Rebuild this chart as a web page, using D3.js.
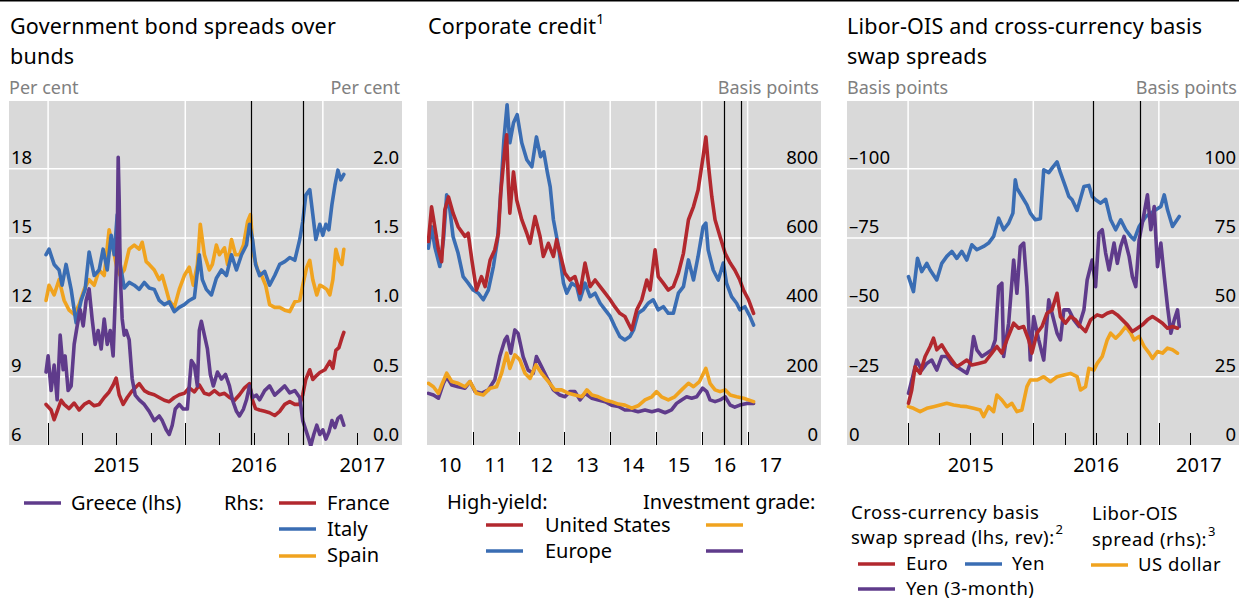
<!DOCTYPE html>
<html>
<head>
<meta charset="utf-8">
<script src="https://cdn.jsdelivr.net/npm/d3@7"></script>
<style>
  body { margin: 0; background: #fff; }
  svg text { font-family: "Noto Sans", sans-serif; fill: #000; }
</style>
</head>
<body>
<svg id="chart" width="1239" height="601"></svg>
<script>
// Dates are decimal years

// Panel 1: government bond spreads over bunds
const greece = [[2014.985,9.2],[2015.000,9.9],[2015.022,8.4],[2015.044,9.5],[2015.066,8.0],[2015.088,10.8],[2015.110,9.3],[2015.124,9.9],[2015.146,8.4],[2015.168,8.6],[2015.190,10.4],[2015.212,11.2],[2015.234,11.9],[2015.256,11.2],[2015.277,12.3],[2015.299,12.8],[2015.321,11.5],[2015.343,10.4],[2015.365,11.0],[2015.387,10.2],[2015.409,11.5],[2015.431,10.4],[2015.453,11.0],[2015.474,9.9],[2015.489,12.3],[2015.504,14.9],[2015.511,18.5],[2015.518,16.7],[2015.526,13.4],[2015.540,11.5],[2015.555,10.8],[2015.569,11.0],[2015.591,10.6],[2015.613,8.9],[2015.635,8.2],[2015.664,8.0],[2015.701,7.8],[2015.737,7.5],[2015.774,7.1],[2015.810,7.3],[2015.832,7.1],[2015.861,6.7],[2015.883,6.5],[2015.905,6.9],[2015.927,7.6],[2015.956,7.8],[2015.985,7.6],[2016.015,7.6],[2016.044,9.7],[2016.066,9.5],[2016.088,8.6],[2016.102,11.0],[2016.117,11.4],[2016.139,10.8],[2016.161,10.2],[2016.182,9.1],[2016.204,8.6],[2016.234,9.2],[2016.263,8.9],[2016.292,9.1],[2016.321,8.6],[2016.343,8.0],[2016.372,7.5],[2016.394,7.3],[2016.423,7.6],[2016.445,8.0],[2016.467,8.6],[2016.489,8.1],[2016.518,8.2],[2016.540,8.0],[2016.577,8.4],[2016.613,8.6],[2016.650,8.2],[2016.686,8.4],[2016.723,8.6],[2016.759,8.3],[2016.796,8.4],[2016.832,8.1],[2016.854,7.1],[2016.876,6.7],[2016.898,6.3],[2016.912,6.0],[2016.934,6.5],[2016.956,6.9],[2016.978,6.5],[2017.000,6.7],[2017.022,6.3],[2017.044,6.6],[2017.066,7.1],[2017.088,6.8],[2017.110,7.2],[2017.131,7.3],[2017.153,6.9]];
const italy = [[2014.985,1.38],[2015.007,1.42],[2015.044,1.31],[2015.080,1.27],[2015.102,1.16],[2015.131,1.31],[2015.168,1.13],[2015.204,0.89],[2015.241,1.05],[2015.270,1.13],[2015.299,1.40],[2015.336,1.23],[2015.372,1.27],[2015.401,1.42],[2015.431,1.27],[2015.460,1.52],[2015.482,1.38],[2015.504,1.67],[2015.526,1.31],[2015.555,1.14],[2015.591,1.18],[2015.628,1.16],[2015.664,1.13],[2015.701,1.18],[2015.737,1.14],[2015.774,1.13],[2015.810,1.05],[2015.847,1.02],[2015.883,1.04],[2015.920,0.97],[2015.956,1.00],[2015.993,1.02],[2016.029,1.05],[2016.066,1.07],[2016.102,1.38],[2016.124,1.20],[2016.153,1.13],[2016.190,1.09],[2016.226,1.21],[2016.263,1.27],[2016.299,1.23],[2016.336,1.38],[2016.372,1.27],[2016.409,1.38],[2016.445,1.45],[2016.467,1.60],[2016.489,1.49],[2016.511,1.31],[2016.540,1.23],[2016.577,1.26],[2016.613,1.16],[2016.650,1.23],[2016.686,1.31],[2016.723,1.33],[2016.759,1.36],[2016.796,1.34],[2016.832,1.49],[2016.854,1.62],[2016.876,1.81],[2016.905,1.85],[2016.927,1.67],[2016.949,1.49],[2016.978,1.60],[2017.000,1.52],[2017.022,1.60],[2017.044,1.56],[2017.066,1.74],[2017.088,1.88],[2017.110,1.99],[2017.131,1.92],[2017.153,1.96]];
const spain = [[2014.985,1.05],[2015.007,1.16],[2015.044,1.09],[2015.080,1.20],[2015.117,1.05],[2015.153,0.98],[2015.190,0.95],[2015.226,1.02],[2015.263,1.13],[2015.299,1.20],[2015.336,1.16],[2015.372,1.27],[2015.409,1.23],[2015.445,1.56],[2015.482,1.38],[2015.504,1.27],[2015.526,1.23],[2015.555,1.27],[2015.591,1.42],[2015.628,1.45],[2015.664,1.42],[2015.686,1.47],[2015.715,1.33],[2015.737,1.31],[2015.774,1.27],[2015.810,1.20],[2015.832,1.23],[2015.861,1.13],[2015.883,1.05],[2015.920,1.00],[2015.956,1.13],[2015.993,1.23],[2016.029,1.29],[2016.058,1.16],[2016.088,1.31],[2016.109,1.60],[2016.139,1.38],[2016.175,1.27],[2016.197,1.31],[2016.226,1.45],[2016.248,1.38],[2016.285,1.43],[2016.307,1.31],[2016.336,1.49],[2016.365,1.38],[2016.394,1.38],[2016.423,1.45],[2016.453,1.62],[2016.474,1.67],[2016.496,1.38],[2016.526,1.27],[2016.555,1.23],[2016.584,1.16],[2016.613,1.02],[2016.650,1.00],[2016.686,1.00],[2016.723,0.98],[2016.759,0.97],[2016.796,1.04],[2016.832,1.05],[2016.854,1.16],[2016.883,1.29],[2016.905,1.34],[2016.927,1.20],[2016.956,1.09],[2016.978,1.16],[2017.000,1.15],[2017.029,1.13],[2017.051,1.09],[2017.073,1.20],[2017.095,1.42],[2017.117,1.34],[2017.139,1.31],[2017.153,1.42]];
const france = [[2014.985,0.30],[2015.022,0.26],[2015.044,0.19],[2015.066,0.25],[2015.095,0.33],[2015.117,0.30],[2015.153,0.27],[2015.190,0.31],[2015.226,0.26],[2015.263,0.30],[2015.299,0.32],[2015.336,0.29],[2015.372,0.30],[2015.409,0.35],[2015.445,0.39],[2015.474,0.44],[2015.496,0.49],[2015.518,0.37],[2015.547,0.30],[2015.577,0.35],[2015.606,0.39],[2015.635,0.42],[2015.664,0.45],[2015.701,0.40],[2015.737,0.38],[2015.774,0.37],[2015.810,0.35],[2015.847,0.33],[2015.883,0.32],[2015.920,0.35],[2015.956,0.37],[2015.993,0.38],[2016.029,0.42],[2016.066,0.39],[2016.102,0.44],[2016.139,0.38],[2016.175,0.37],[2016.212,0.40],[2016.248,0.37],[2016.285,0.38],[2016.321,0.35],[2016.358,0.33],[2016.394,0.37],[2016.431,0.42],[2016.467,0.45],[2016.489,0.33],[2016.511,0.27],[2016.540,0.26],[2016.577,0.25],[2016.613,0.24],[2016.650,0.22],[2016.686,0.25],[2016.723,0.30],[2016.759,0.32],[2016.796,0.30],[2016.832,0.30],[2016.854,0.37],[2016.876,0.48],[2016.905,0.55],[2016.927,0.48],[2016.956,0.51],[2016.978,0.53],[2017.015,0.55],[2017.051,0.61],[2017.073,0.56],[2017.095,0.69],[2017.117,0.71],[2017.139,0.78],[2017.153,0.82]];

// Panel 2: corporate credit, basis points
const hyUS = [[2010.03,590],[2010.10,690],[2010.17,633],[2010.25,566],[2010.32,532],[2010.39,682],[2010.47,719],[2010.57,672],[2010.68,633],[2010.83,605],[2010.90,614],[2010.98,537],[2011.08,450],[2011.19,489],[2011.27,460],[2011.38,537],[2011.48,566],[2011.56,614],[2011.61,730],[2011.70,855],[2011.74,898],[2011.78,748],[2011.81,672],[2011.89,791],[2011.96,710],[2012.07,653],[2012.18,614],[2012.25,585],[2012.36,662],[2012.47,604],[2012.54,547],[2012.65,585],[2012.76,547],[2012.83,595],[2012.94,537],[2013.01,499],[2013.12,479],[2013.23,489],[2013.34,441],[2013.45,528],[2013.56,460],[2013.67,479],[2013.78,460],[2013.89,441],[2014.00,422],[2014.10,402],[2014.21,383],[2014.32,374],[2014.43,345],[2014.47,335],[2014.58,393],[2014.69,422],[2014.80,479],[2014.87,450],[2014.98,566],[2015.05,489],[2015.16,470],[2015.27,450],[2015.38,460],[2015.49,499],[2015.60,556],[2015.71,653],[2015.82,691],[2015.92,739],[2016.03,835],[2016.09,892],[2016.14,817],[2016.22,719],[2016.29,653],[2016.40,604],[2016.51,556],[2016.62,528],[2016.72,508],[2016.83,479],[2016.91,450],[2017.02,422],[2017.13,383]];
const hyEurope = [[2010.03,571],[2010.10,633],[2010.17,575],[2010.28,518],[2010.36,595],[2010.43,725],[2010.50,682],[2010.57,604],[2010.68,556],[2010.79,489],[2010.90,470],[2011.01,450],[2011.12,441],[2011.23,422],[2011.34,450],[2011.45,518],[2011.54,595],[2011.61,730],[2011.68,884],[2011.75,985],[2011.81,875],[2011.89,933],[2011.97,956],[2012.07,875],[2012.18,826],[2012.29,806],[2012.39,892],[2012.48,835],[2012.55,849],[2012.63,788],[2012.69,748],[2012.76,653],[2012.87,575],[2012.98,470],[2013.05,441],[2013.16,470],[2013.27,460],[2013.34,422],[2013.45,470],[2013.56,431],[2013.67,441],[2013.78,412],[2013.89,393],[2014.00,374],[2014.10,345],[2014.21,316],[2014.32,306],[2014.43,316],[2014.51,335],[2014.61,383],[2014.72,393],[2014.83,412],[2014.94,422],[2015.05,393],[2015.16,402],[2015.27,383],[2015.38,383],[2015.49,441],[2015.60,460],[2015.71,537],[2015.82,479],[2015.92,547],[2016.03,633],[2016.09,643],[2016.14,566],[2016.25,508],[2016.36,479],[2016.47,528],[2016.54,470],[2016.65,431],[2016.76,412],[2016.83,393],[2016.94,402],[2017.05,374],[2017.13,349]];
const igUS = [[2010.03,181],[2010.14,171],[2010.25,152],[2010.32,176],[2010.43,210],[2010.54,186],[2010.68,181],[2010.83,171],[2010.94,186],[2011.08,152],[2011.23,147],[2011.38,167],[2011.52,171],[2011.63,210],[2011.74,268],[2011.81,224],[2011.92,263],[2012.03,248],[2012.14,210],[2012.25,195],[2012.38,234],[2012.50,210],[2012.65,186],[2012.79,162],[2012.94,162],[2013.09,152],[2013.23,147],[2013.38,142],[2013.49,162],[2013.60,147],[2013.74,142],[2013.89,133],[2014.03,128],[2014.18,121],[2014.32,118],[2014.47,109],[2014.61,116],[2014.76,133],[2014.91,142],[2015.01,157],[2015.12,142],[2015.27,133],[2015.41,142],[2015.56,162],[2015.71,181],[2015.82,171],[2015.95,186],[2016.09,224],[2016.18,181],[2016.29,162],[2016.40,157],[2016.51,162],[2016.62,147],[2016.76,142],[2016.91,138],[2017.02,133],[2017.13,128]];
const igEurope = [[2010.03,152],[2010.14,147],[2010.25,138],[2010.36,181],[2010.43,200],[2010.54,176],[2010.68,171],[2010.83,167],[2010.94,186],[2011.05,157],[2011.19,152],[2011.34,162],[2011.48,191],[2011.59,258],[2011.70,306],[2011.75,316],[2011.83,268],[2011.92,335],[2011.99,325],[2012.10,258],[2012.21,219],[2012.32,210],[2012.39,258],[2012.50,229],[2012.61,200],[2012.76,162],[2012.90,147],[2013.01,142],[2013.12,157],[2013.23,157],[2013.34,133],[2013.45,152],[2013.60,138],[2013.74,133],[2013.89,128],[2014.03,118],[2014.18,114],[2014.32,104],[2014.47,104],[2014.61,99],[2014.76,104],[2014.91,99],[2015.05,104],[2015.20,96],[2015.34,104],[2015.45,123],[2015.56,133],[2015.67,142],[2015.78,138],[2015.89,142],[2016.02,167],[2016.11,157],[2016.18,133],[2016.29,128],[2016.40,133],[2016.51,142],[2016.62,118],[2016.72,112],[2016.83,118],[2016.98,123],[2017.13,123]];

// Panel 3: basis swap (lhs, reversed, so negative) and Libor-OIS (rhs)
const euroBasis = [[2015.003,-15.4],[2015.029,-20.2],[2015.056,-28.6],[2015.096,-26.2],[2015.136,-32.3],[2015.176,-35.9],[2015.203,-38.9],[2015.229,-34.7],[2015.269,-36.5],[2015.309,-33.5],[2015.349,-31.0],[2015.389,-28.6],[2015.429,-29.8],[2015.469,-31.0],[2015.509,-29.2],[2015.563,-29.8],[2015.616,-30.4],[2015.669,-33.5],[2015.709,-35.9],[2015.749,-33.5],[2015.789,-38.3],[2015.843,-44.3],[2015.883,-42.5],[2015.923,-43.1],[2015.963,-38.3],[2015.989,-33.5],[2016.029,-40.7],[2016.069,-43.1],[2016.109,-47.9],[2016.149,-49.1],[2016.189,-55.1],[2016.216,-46.7],[2016.256,-44.3],[2016.296,-46.7],[2016.336,-45.5],[2016.376,-43.1],[2016.416,-41.3],[2016.456,-45.5],[2016.509,-47.3],[2016.549,-46.7],[2016.589,-47.9],[2016.629,-48.5],[2016.669,-47.3],[2016.709,-45.5],[2016.749,-43.7],[2016.789,-41.3],[2016.829,-42.5],[2016.869,-43.7],[2016.909,-45.5],[2016.949,-46.7],[2016.989,-45.5],[2017.029,-44.3],[2017.069,-42.5],[2017.109,-43.1],[2017.149,-42.5]];
const yenBasis = [[2015.003,-61.1],[2015.043,-55.7],[2015.075,-67.7],[2015.109,-62.9],[2015.149,-65.9],[2015.176,-63.5],[2015.229,-59.9],[2015.269,-65.9],[2015.309,-68.4],[2015.349,-70.2],[2015.389,-67.7],[2015.429,-70.2],[2015.469,-67.1],[2015.509,-72.6],[2015.549,-70.8],[2015.603,-72.0],[2015.643,-73.2],[2015.683,-75.6],[2015.723,-82.2],[2015.763,-78.0],[2015.803,-80.4],[2015.837,-84.0],[2015.856,-96.0],[2015.869,-93.0],[2015.909,-90.0],[2015.949,-87.0],[2015.976,-84.0],[2016.016,-81.6],[2016.056,-82.0],[2016.083,-99.6],[2016.123,-98.6],[2016.157,-100.7],[2016.189,-102.5],[2016.216,-98.6],[2016.256,-93.6],[2016.283,-90.0],[2016.309,-88.8],[2016.349,-85.0],[2016.403,-93.6],[2016.443,-94.0],[2016.469,-90.0],[2016.496,-88.8],[2016.536,-87.6],[2016.576,-89.0],[2016.616,-81.6],[2016.656,-78.0],[2016.696,-81.6],[2016.736,-78.0],[2016.776,-75.6],[2016.803,-74.4],[2016.843,-79.2],[2016.896,-82.8],[2016.936,-84.0],[2016.976,-85.2],[2017.016,-86.4],[2017.043,-90.6],[2017.069,-85.2],[2017.109,-79.2],[2017.163,-82.8]];
const yen3m = [[2015.003,-19.0],[2015.043,-26.2],[2015.069,-31.0],[2015.109,-27.4],[2015.149,-29.8],[2015.189,-31.0],[2015.229,-27.4],[2015.269,-32.3],[2015.309,-32.3],[2015.349,-29.8],[2015.389,-28.6],[2015.429,-27.4],[2015.469,-26.2],[2015.496,-29.8],[2015.523,-39.5],[2015.549,-34.7],[2015.589,-32.3],[2015.629,-33.5],[2015.669,-34.7],[2015.696,-38.3],[2015.723,-57.5],[2015.749,-58.7],[2015.763,-32.3],[2015.803,-44.3],[2015.843,-67.1],[2015.869,-55.1],[2015.896,-72.0],[2015.923,-73.2],[2015.949,-57.5],[2015.976,-31.0],[2016.003,-46.7],[2016.043,-38.3],[2016.083,-31.0],[2016.123,-52.7],[2016.149,-47.9],[2016.189,-40.7],[2016.216,-38.3],[2016.243,-49.1],[2016.283,-49.1],[2016.323,-45.5],[2016.363,-43.1],[2016.403,-49.1],[2016.429,-59.9],[2016.469,-67.1],[2016.496,-57.5],[2016.523,-76.8],[2016.549,-78.0],[2016.576,-69.6],[2016.603,-63.5],[2016.643,-73.2],[2016.669,-65.9],[2016.696,-72.0],[2016.723,-75.6],[2016.763,-68.4],[2016.789,-61.1],[2016.816,-57.5],[2016.843,-74.4],[2016.883,-84.0],[2016.909,-90.6],[2016.936,-78.0],[2016.963,-86.4],[2016.989,-64.7],[2017.016,-73.2],[2017.043,-61.1],[2017.069,-50.3],[2017.096,-40.7],[2017.123,-45.5],[2017.149,-49.1],[2017.163,-43.1]];
const usdLiborOis = [[2015.003,14.2],[2015.043,13.6],[2015.096,12.4],[2015.149,13.6],[2015.203,14.2],[2015.256,14.8],[2015.309,15.4],[2015.363,14.8],[2015.416,14.4],[2015.469,14.2],[2015.523,13.6],[2015.576,13.0],[2015.603,10.6],[2015.643,14.2],[2015.683,12.4],[2015.709,18.4],[2015.749,16.6],[2015.789,14.2],[2015.829,15.4],[2015.869,12.4],[2015.909,13.0],[2015.949,21.4],[2015.976,23.8],[2016.029,23.8],[2016.083,25.0],[2016.136,23.2],[2016.189,25.0],[2016.243,25.6],[2016.296,26.2],[2016.349,25.0],[2016.376,20.2],[2016.416,21.4],[2016.443,28.0],[2016.483,27.4],[2016.509,29.8],[2016.549,32.3],[2016.589,38.3],[2016.616,40.7],[2016.656,38.9],[2016.696,40.7],[2016.736,43.1],[2016.776,40.7],[2016.803,38.3],[2016.843,39.5],[2016.883,35.9],[2016.923,33.5],[2016.949,31.6],[2016.989,34.1],[2017.029,33.5],[2017.069,35.3],[2017.109,34.7],[2017.149,33.5]];

// tick labels
const p1LeftTicks = [6, 9, 12, 15, 18];
const p1RightTicks = [0, 0.5, 1, 1.5, 2];
const p2RightTicks = [0, 200, 400, 600, 800];
const p3LeftTicks = [0, -25, -50, -75, -100];
const p3RightTicks = [0, 25, 50, 75, 100];
const eventDates = ['2016-06-23', '2016-11-08'];

const RED = '#b2282e', BLUE = '#3a6db3', ORANGE = '#f0a31f', PURPLE = '#5f3b8b';
const GREY_BG = '#d9d9d9';
const PLOT_TOP = 101, PLOT_BOTTOM = 445;

const svg = d3.select('#chart');

// convert a decimal year into a Date
function decToDate(t) {
  const y = Math.floor(t);
  const a = new Date(y, 0, 1), b = new Date(y + 1, 0, 1);
  return new Date(+a + (t - y) * (b - a));
}

// top rule
svg.append('rect').attr('x', 0).attr('y', 0).attr('width', 1239).attr('height', 1.5).attr('fill', '#000');

function drawPanel(p) {
  const g = svg.append('g');
  const clipId = 'clip' + p.id;
  svg.append('clipPath').attr('id', clipId)
    .append('rect').attr('x', p.left).attr('y', PLOT_TOP).attr('width', p.right - p.left).attr('height', PLOT_BOTTOM - PLOT_TOP + 1);

  g.append('rect')
    .attr('x', p.left).attr('y', PLOT_TOP)
    .attr('width', p.right - p.left).attr('height', PLOT_BOTTOM - PLOT_TOP)
    .attr('fill', GREY_BG);

  // horizontal grid
  p.gridValues.forEach(v => {
    g.append('line')
      .attr('x1', p.left).attr('x2', p.right)
      .attr('y1', p.yGrid(v)).attr('y2', p.yGrid(v))
      .attr('stroke', '#fff').attr('stroke-width', 1.5);
  });

  // vertical grid at year starts
  p.gridYears.forEach(yr => {
    const x = p.x(new Date(yr, 0, 1));
    g.append('line')
      .attr('x1', x).attr('x2', x)
      .attr('y1', PLOT_TOP).attr('y2', PLOT_BOTTOM)
      .attr('stroke', '#fff').attr('stroke-width', 1.5);
  });

  // ticks along the bottom
  p.ticks.forEach(t => {
    const x = Math.round(p.x(t.date)) + 0.5;
    g.append('line')
      .attr('x1', x).attr('x2', x)
      .attr('y1', PLOT_BOTTOM - t.len).attr('y2', PLOT_BOTTOM)
      .attr('stroke', '#000').attr('stroke-width', 1);
  });

  const lines = g.append('g').attr('clip-path', `url(#${clipId})`);
  p.series.forEach(s => {
    const line = d3.line()
      .x(d => p.x(decToDate(d[0])))
      .y(d => s.y(d[1]));
    lines.append('path')
      .datum(s.data)
      .attr('d', line)
      .attr('fill', 'none')
      .attr('stroke', s.color)
      .attr('stroke-width', 3.6)
      .attr('stroke-linejoin', 'round')
      .attr('stroke-linecap', 'round');
  });

  // event lines
  eventDates.forEach(d => {
    const x = Math.round(p.x(new Date(d))) + 0.5;
    g.append('line')
      .attr('x1', x).attr('x2', x)
      .attr('y1', PLOT_TOP).attr('y2', PLOT_BOTTOM)
      .attr('stroke', '#000').attr('stroke-width', 1.2);
  });

  // y tick labels
  if (p.leftTicks) {
    p.leftTicks.forEach(v => {
      g.append('text')
        .attr('x', p.left + 2).attr('y', p.yLeft(v) - 5)
        .attr('font-size', 18.5)
        .text(p.leftFormat(v));
    });
  }
  if (p.rightTicks) {
    p.rightTicks.forEach(v => {
      g.append('text')
        .attr('x', p.right - 3).attr('y', p.yRight(v) - 5)
        .attr('text-anchor', 'end')
        .attr('font-size', 18.5)
        .text(p.rightFormat(v));
    });
  }

  // year labels, centred in the visible part of each year
  p.labelYears.forEach(yr => {
    const a = Math.max(p.x(new Date(yr, 0, 1)), p.left);
    const b = Math.min(p.x(new Date(yr + 1, 0, 1)), p.right);
    g.append('text')
      .attr('x', (a + b) / 2).attr('y', 472)
      .attr('text-anchor', 'middle')
      .attr('font-size', 20)
      .text(p.yearFormat(yr));
  });

  // unit labels
  if (p.unitLeft) {
    g.append('text').attr('x', p.left).attr('y', 94)
      .attr('font-size', 18).style('fill', '#808080').text(p.unitLeft);
  }
  if (p.unitRight) {
    g.append('text').attr('x', p.right - 2).attr('y', 94)
      .attr('text-anchor', 'end')
      .attr('font-size', 18).style('fill', '#808080').text(p.unitRight);
  }

  // title, one text element per line
  p.title.forEach((line, i) => {
    const t = g.append('text').attr('x', p.titleX).attr('y', 34 + i * 29.5)
      .attr('font-size', 21.5).attr('letter-spacing', 0.2).text(line);
    if (p.titleSup && i === p.title.length - 1) {
      t.append('tspan').attr('font-size', 14).attr('dy', -10).text(p.titleSup);
    }
  });
}

function quarterTicks(start, end, skip) {
  return d3.timeMonth.every(3).range(start, end)
    .filter(d => !(skip && +d === +skip))
    .map(d => ({ date: d, len: d.getMonth() === 0 ? 22 : 12 }));
}

// ---- Panel 1
const x1 = d3.scaleTime().domain([decToDate(2014.715), decToDate(2017.577)]).range([9, 402]);
const y1L = d3.scaleLinear().domain([6, 21]).range([446, 99.5]);
const y1R = d3.scaleLinear().domain([0, 2.5]).range([446, 99.5]);
drawPanel({
  id: 1, left: 9, right: 402, x: x1,
  yGrid: y1R, gridValues: [0.5, 1, 1.5, 2],
  gridYears: [2015, 2016, 2017],
  ticks: quarterTicks(new Date(2015, 0, 1), new Date(2017, 4, 1), new Date(2017, 0, 1)),
  series: [
    { data: france, color: RED, y: y1R },
    { data: spain, color: ORANGE, y: y1R },
    { data: italy, color: BLUE, y: y1R },
    { data: greece, color: PURPLE, y: y1L }
  ],
  leftTicks: p1LeftTicks, yLeft: y1L, leftFormat: d => d,
  rightTicks: p1RightTicks, yRight: y1R, rightFormat: d3.format('.1f'),
  labelYears: [2015, 2016, 2017], yearFormat: d => d,
  unitLeft: 'Per cent', unitRight: 'Per cent',
  title: ['Government bond spreads over', 'bunds'], titleX: 10
});

// ---- Panel 2
const x2 = d3.scaleTime().domain([decToDate(2010), decToDate(2018.603)]).range([427, 821]);
const y2 = d3.scaleLinear().domain([0, 1000]).range([446, 99.5]);
drawPanel({
  id: 2, left: 427, right: 821, x: x2,
  yGrid: y2, gridValues: [200, 400, 600, 800],
  gridYears: d3.range(2011, 2018),
  ticks: d3.range(2011, 2018).map(yr => ({ date: new Date(yr, 0, 1), len: 13 })),
  series: [
    { data: hyEurope, color: BLUE, y: y2 },
    { data: hyUS, color: RED, y: y2 },
    { data: igEurope, color: PURPLE, y: y2 },
    { data: igUS, color: ORANGE, y: y2 }
  ],
  rightTicks: p2RightTicks, yRight: y2, rightFormat: d => d,
  labelYears: d3.range(2010, 2018), yearFormat: d => String(d).slice(2),
  unitRight: 'Basis points',
  title: ['Corporate credit'], titleSup: '1', titleX: 428
});

// ---- Panel 3
const x3 = d3.scaleTime().domain([decToDate(2014.512), decToDate(2017.64)]).range([847, 1239]);
const y3L = d3.scaleLinear().domain([0, -125]).range([446, 99.5]);
const y3R = d3.scaleLinear().domain([0, 125]).range([446, 99.5]);
drawPanel({
  id: 3, left: 847, right: 1239, x: x3,
  yGrid: y3R, gridValues: [25, 50, 75, 100],
  gridYears: [2015, 2016, 2017],
  ticks: quarterTicks(new Date(2015, 0, 1), new Date(2017, 4, 1)),
  series: [
    { data: yenBasis, color: BLUE, y: y3L },
    { data: usdLiborOis, color: ORANGE, y: y3R },
    { data: yen3m, color: PURPLE, y: y3L },
    { data: euroBasis, color: RED, y: y3L }
  ],
  leftTicks: p3LeftTicks, yLeft: y3L, leftFormat: d => d < 0 ? '\u2013' + (-d) : d,
  rightTicks: p3RightTicks, yRight: y3R, rightFormat: d => d,
  labelYears: [2015, 2016, 2017], yearFormat: d => d,
  unitLeft: 'Basis points', unitRight: 'Basis points',
  title: ['Libor-OIS and cross-currency basis', 'swap spreads'], titleX: 847
});

// ---- Legends
const legend = svg.append('g');

function swatch(x, y, color) {
  legend.append('line')
    .attr('x1', x).attr('x2', x + 37)
    .attr('y1', y).attr('y2', y)
    .attr('stroke', color).attr('stroke-width', 3.5);
}
function label(x, y, txt, size) {
  return legend.append('text').attr('x', x).attr('y', y).attr('font-size', size || 20).text(txt);
}
// tighter rows in the third legend: slightly smaller type, spaced out a touch
function label3(x, y, txt) {
  return label(x, y, txt, 18.5).attr('letter-spacing', 0.5);
}
// footnote number placed just after a label
function footnote(t, num) {
  const x = +t.attr('x') + t.node().getComputedTextLength() + 1;
  legend.append('text').attr('x', x).attr('y', +t.attr('y') - 10)
    .attr('font-size', 13).text(num);
}

// panel 1
swatch(24, 503, PURPLE); label(71, 510, 'Greece (lhs)');
label(224, 510, 'Rhs:');
swatch(279, 503, RED); label(327, 510, 'France');
swatch(279, 529, BLUE); label(327, 536, 'Italy');
swatch(279, 556, ORANGE); label(327, 562, 'Spain');

// panel 2
label(447, 509, 'High-yield:');
label(643, 509, 'Investment grade:');
swatch(486, 525, RED); label(545, 532, 'United States');
swatch(486, 551, BLUE); label(545, 558, 'Europe');
swatch(706, 525, ORANGE);
swatch(706, 551, PURPLE);

// panel 3
label3(851, 518.5, 'Cross-currency basis');
footnote(label3(851, 544, 'swap spread (lhs, rev):'), '2');
label3(1092, 520, 'Libor-OIS');
footnote(label3(1092, 545.5, 'spread (rhs):'), '3');
swatch(858, 564, RED); label3(906, 569.5, 'Euro');
swatch(965, 564, BLUE); label3(1012, 569.5, 'Yen');
swatch(858, 589, PURPLE); label3(906, 595, 'Yen (3-month)');
swatch(1091, 565, ORANGE); label3(1138, 571, 'US dollar');
</script>
</body>
</html>
